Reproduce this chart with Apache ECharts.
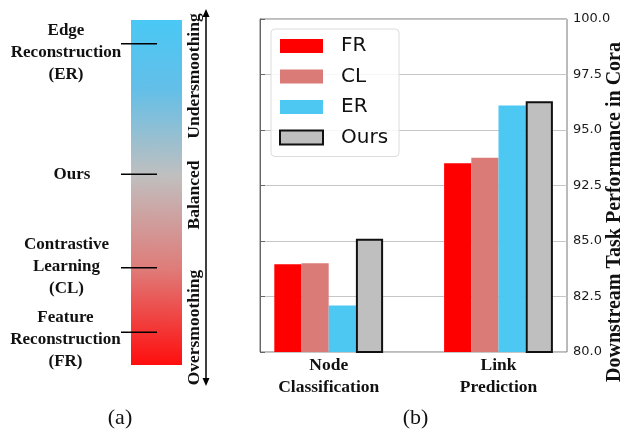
<!DOCTYPE html>
<html>
<head>
<meta charset="utf-8">
<script src="https://cdn.jsdelivr.net/npm/echarts@6.0.0/dist/echarts.min.js"></script>
<style>
  html, body { margin: 0; padding: 0; background: #fff; }
  #chart { width: 623px; height: 432px; }
</style>
</head>
<body>
<div id="chart"></div>
<script>
// ---------- data ----------
const categories = ['Node\nClassification', 'Link\nPrediction'];
const seriesNames = ['FR', 'CL', 'ER', 'Ours'];
const frValues = [83.95, 93.5];
const clValues = [84.0, 93.75];
const erValues = [82.1, 96.1];
const oursValues = [85.3, 96.3];
const yTickLabels = ['80.0', '82.5', '85.0', '92.5', '95.0', '97.5', '100.0'];
// broken axis: 85.0 -> 92.5 is squeezed into one tick interval
const BREAK_LO = 85.0, BREAK_HI = 92.5, STEP = 2.5;

// ---------- styles ----------
const colors = ['#ff0000', '#db7b77', '#4cc8f2', '#bfbfbf'];
const serif = "'Liberation Serif', 'DejaVu Serif', serif";
const sans = "'DejaVu Sans', sans-serif";

function toDisplay(v) {
  if (v <= BREAK_LO) return v;
  if (v >= BREAK_HI) return v - (BREAK_HI - BREAK_LO - STEP);
  return BREAK_LO + (v - BREAK_LO) * STEP / (BREAK_HI - BREAK_LO);
}
const dispMin = 80, dispMax = toDisplay(100);
function labelFor(d) {
  const idx = Math.round((d - dispMin) / STEP);
  return yTickLabels[idx] !== undefined ? yTickLabels[idx] : '';
}

const valueSets = [frValues, clValues, erValues, oursValues];
const series = seriesNames.map((name, i) => {
  const s = {
    name: name,
    type: 'bar',
    xAxisIndex: 1,
    yAxisIndex: 1,
    barWidth: 27.2,
    barGap: '0%',
    data: valueSets[i].map(toDisplay),
    itemStyle: { color: colors[i] },
    emphasis: { disabled: true },
    z: 3
  };
  if (name === 'Ours') {
    s.itemStyle.borderColor = '#111';
    s.itemStyle.borderWidth = 2;
  }
  return s;
});

const chart = echarts.init(document.getElementById('chart'), null, { renderer: 'canvas' });

// left diagram (a)
const tickY = [43.7, 174.3, 267.7, 332.3];
const labelBlocks = [
  { text: 'Edge\nReconstruction\n(ER)', x: 66, y: 52.5 },
  { text: 'Ours', x: 72, y: 175 },
  { text: 'Contrastive\nLearning\n(CL)', x: 66.5, y: 266.7 },
  { text: 'Feature\nReconstruction\n(FR)', x: 65.5, y: 339.5 }
];
const sideTexts = [
  { text: 'Undersmoothing', y: 76 },
  { text: 'Balanced', y: 195 },
  { text: 'Oversmoothing', y: 327.5 }
];

const graphics = [];
graphics.push({
  type: 'rect',
  shape: { x: 131, y: 20, width: 51, height: 345 },
  style: {
    fill: new echarts.graphic.LinearGradient(0.1, 0, 0, 1, [
      { offset: 0, color: '#4ac8f5' },
      { offset: 0.2, color: '#63bfe8' },
      { offset: 0.45, color: '#c0bfbf' },
      { offset: 0.72, color: '#df7c79' },
      { offset: 1, color: '#ff0d0d' }
    ])
  }
});
tickY.forEach(y => {
  graphics.push({
    type: 'line',
    shape: { x1: 121, y1: y, x2: 157, y2: y },
    style: { stroke: '#000', lineWidth: 1.5 },
    z: 10
  });
});
labelBlocks.forEach(b => {
  graphics.push({
    type: 'text',
    x: b.x, y: b.y,
    style: {
      text: b.text, x: 0, y: 0,
      fontFamily: serif, fontWeight: 'bold', fontSize: 17,
      lineHeight: 22,
      fill: '#111',
      align: 'center', verticalAlign: 'middle',
      textAlign: 'center', textVerticalAlign: 'middle'
    }
  });
});
sideTexts.forEach(t => {
  graphics.push({
    type: 'text',
    x: 194.5, y: t.y,
    rotation: Math.PI / 2,
    style: {
      text: t.text, x: 0, y: 0,
      fontFamily: serif, fontWeight: 'bold', fontSize: 17.5,
      fill: '#111',
      align: 'center', verticalAlign: 'middle',
      textAlign: 'center', textVerticalAlign: 'middle'
    }
  });
});
// double-headed arrow
graphics.push({
  type: 'line',
  shape: { x1: 206, y1: 14, x2: 206, y2: 381 },
  style: { stroke: '#000', lineWidth: 1.5 }
});
graphics.push({
  type: 'polygon',
  shape: { points: [[206, 9], [202.5, 17], [209.5, 17]] },
  style: { fill: '#000' }
});
graphics.push({
  type: 'polygon',
  shape: { points: [[206, 386], [202.5, 378], [209.5, 378]] },
  style: { fill: '#000' }
});
// captions
graphics.push({
  type: 'text', x: 120, y: 418,
  style: { text: '(a)', x: 0, y: 0, fontFamily: serif, fontSize: 22, fill: '#111',
    align: 'center', verticalAlign: 'middle', textAlign: 'center', textVerticalAlign: 'middle' }
});
graphics.push({
  type: 'text', x: 415.5, y: 418,
  style: { text: '(b)', x: 0, y: 0, fontFamily: serif, fontSize: 22, fill: '#111',
    align: 'center', verticalAlign: 'middle', textAlign: 'center', textVerticalAlign: 'middle' }
});
// y-axis title
graphics.push({
  type: 'text', x: 615, y: 212,
  rotation: Math.PI / 2,
  style: { text: 'Downstream Task Performance in Cora', x: 0, y: 0,
    fontFamily: serif, fontWeight: 'bold', fontSize: 20, fill: '#111',
    align: 'center', verticalAlign: 'middle', textAlign: 'center', textVerticalAlign: 'middle' }
});

const option = {
  animation: false,
  backgroundColor: '#fff',
  grid: [
    { left: 260, right: 56, top: 19, bottom: 80, show: true, borderColor: '#777', borderWidth: 1, backgroundColor: 'transparent', containLabel: false },
    { left: 243.8, width: 339.6, top: 19, bottom: 80, containLabel: false }
  ],
  xAxis: [
    { gridIndex: 0, type: 'value', min: 0, max: 1, show: false },
    {
      gridIndex: 1, type: 'category', data: categories,
      axisLine: { show: false }, axisTick: { show: false },
      axisLabel: {
        fontFamily: serif, fontWeight: 'bold', fontSize: 17.5, lineHeight: 22.5,
        color: '#111', margin: 2, interval: 0
      }
    }
  ],
  yAxis: [
    {
      gridIndex: 0, type: 'value', position: 'right',
      min: dispMin, max: dispMax, interval: STEP,
      axisLine: { show: true, lineStyle: { color: '#666', width: 1 } },
      axisTick: { show: true, inside: false, length: 5, lineStyle: { color: '#666' } },
      axisLabel: {
        formatter: labelFor, fontFamily: sans, fontSize: 13, color: '#1a1a1a', margin: 6
      },
      splitLine: { show: true, lineStyle: { color: '#c6c6c6', width: 1 } }
    },
    { gridIndex: 1, type: 'value', min: dispMin, max: dispMax, show: false }
  ],
  legend: {
    data: seriesNames,
    orient: 'vertical',
    left: 271, top: 29,
    itemWidth: 43, itemHeight: 14, itemGap: 10.5,
    icon: 'rect',
    padding: [7, 11, 9, 8],
    borderColor: '#dcdcdc', borderWidth: 1, borderRadius: 4,
    backgroundColor: 'rgba(255,255,255,0.85)',
    textStyle: { fontFamily: sans, fontSize: 20, color: '#111', padding: [0, 0, 0, 13], lineHeight: 20 },
    selectedMode: false
  },
  series: series,
  graphic: { elements: graphics }
};
chart.setOption(option);
</script>
</body>
</html>
